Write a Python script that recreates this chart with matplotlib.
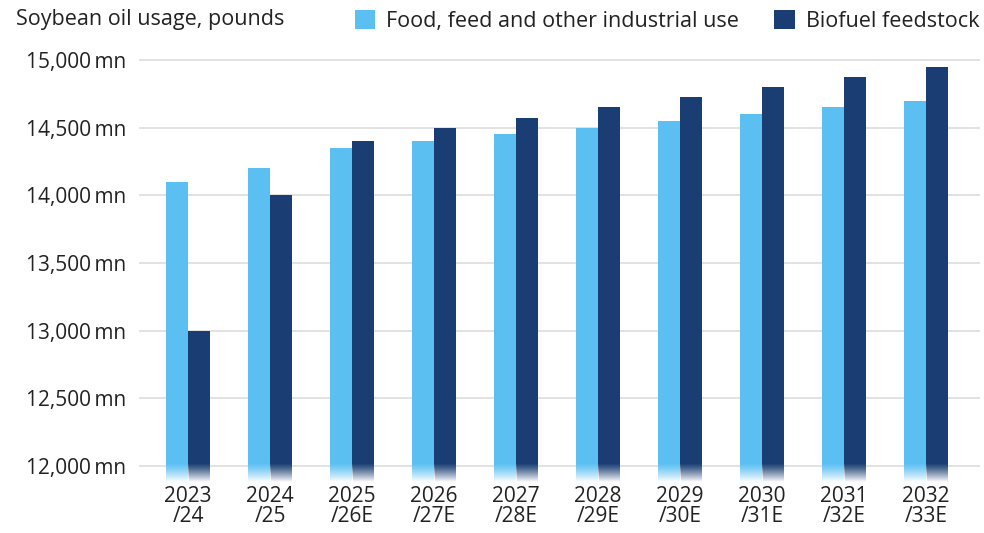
import numpy as np
import matplotlib
matplotlib.use("Agg")
import matplotlib.pyplot as plt
from matplotlib.patches import Patch

categories = ["2023\n/24", "2024\n/25", "2025\n/26E", "2026\n/27E", "2027\n/28E",
              "2028\n/29E", "2029\n/30E", "2030\n/31E", "2031\n/32E", "2032\n/33E"]
food_feed = [14100, 14200, 14350, 14400, 14450, 14500, 14550, 14600, 14650, 14700]
biofuel = [13000, 14000, 14400, 14500, 14575, 14650, 14725, 14800, 14875, 14950]
yticks = [12000, 12500, 13000, 13500, 14000, 14500, 15000]
series_names = ["Food, feed and other industrial use", "Biofuel feedstock"]
title = "Soybean oil usage, pounds"

LIGHT = "#5BBFF2"
DARK = "#1A3E73"
FONT = ["Open Sans", "DejaVu Sans"]
plt.rcParams["font.family"] = FONT

fig = plt.figure(figsize=(9.84, 5.33), dpi=100)
ax = fig.add_axes([139 / 984, 1 - 482 / 533, (980 - 139) / 984, (482 - 55) / 533])

ymin, ymax = 11882, 15037
x = np.arange(len(categories))
w = 0.27
bars_l = ax.bar(x - w / 2, np.array(food_feed) - ymin, w, bottom=ymin, color=LIGHT, zorder=2)
bars_d = ax.bar(x + w / 2, np.array(biofuel) - ymin, w, bottom=ymin, color=DARK, zorder=2)

# fade-out at the bottom of each bar
n = 64
grad = np.zeros((n, 1, 4))
grad[..., :3] = 1.0
grad[:, 0, 3] = np.linspace(0, 1, n) ** 1.2
fade_top = 12015
for b in list(bars_l) + list(bars_d):
    x0 = b.get_x()
    ax.imshow(grad, extent=[x0, x0 + b.get_width(), ymin, fade_top], origin="upper",
              aspect="auto", zorder=3, interpolation="bilinear")
ax.set_xlim(-0.6, 9.66)
ax.set_ylim(ymin, ymax)

ax.set_yticks(yticks)
ax.set_yticklabels([f"{v:,}\u2009mn" for v in yticks], fontsize=15, color="#222222")
ax.set_xticks(x)
ax.set_xticklabels(categories, fontsize=15, color="#222222", linespacing=0.92)
ax.tick_params(axis="both", length=0)
ax.tick_params(axis="y", pad=9)
ax.tick_params(axis="x", pad=3)
ax.grid(axis="y", color="#dddddd", linewidth=1.2, zorder=0)
ax.set_axisbelow(True)
for s in ax.spines.values():
    s.set_visible(False)

fig.text(16 / 984, 1 - 20 / 533, title, fontsize=15.5, va="center", ha="left", color="#222222")

handles = [Patch(facecolor=LIGHT, edgecolor="none"), Patch(facecolor=DARK, edgecolor="none")]
fig.legend(handles, series_names, loc="center right", bbox_to_anchor=(1.006, 1 - 21 / 533),
           ncol=2, frameon=False, fontsize=15.5, handlelength=0.95, handleheight=1.0,
           handletextpad=0.5, columnspacing=1.65, borderaxespad=0.1, labelcolor="#222222")

fig.savefig("out.png", dpi=100)
